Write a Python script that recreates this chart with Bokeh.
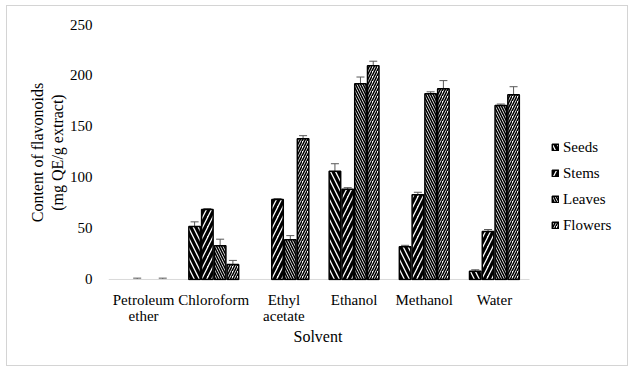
from bokeh.plotting import figure
from bokeh.models import (ColumnDataSource, Range1d, FixedTicker, Whisker, TeeHead,
                          Legend, LegendItem, Title)
from bokeh.embed import file_html
from bokeh.resources import INLINE

# ---- data ----
solvents = ["Petroleum\nether", "Chloroform", "Ethyl\nacetate", "Ethanol", "Methanol", "Water"]
series = ["Seeds", "Stems", "Leaves", "Flowers"]
seeds = [0, 52, 0, 106, 32, 8]
seeds_err = [0, 4.5, 0, 7.5, 1.5, 1.5]
stems = [0, 68.5, 78.5, 88.5, 83, 47]
stems_err = [1.3, 1, 0.8, 1.5, 2.5, 2]
leaves = [0, 33, 39, 192, 182, 170.5]
leaves_err = [0, 6.5, 4, 6.5, 2, 1.5]
flowers = [0, 14.7, 138, 209.5, 187, 181]
flowers_err = [1.3, 4, 3, 4.5, 8, 8]
y_ticks = [0, 50, 100, 150, 200, 250]

values = [seeds, stems, leaves, flowers]
errors = [seeds_err, stems_err, leaves_err, flowers_err]
offsets = [-0.273, -0.091, 0.091, 0.273]
patterns = [("\\", 10, 3.2), ("/", 10, 3.2), ("\\", 5, 1.6), ("/", 5, 1.6)]

FONT = "'Liberation Serif', 'Times New Roman', serif"

W, H = 620, 359
LEFT, RIGHT, TOP, BOTTOM = 101, 0, 18, 85
n = len(solvents)
frame_w = W - LEFT - RIGHT
x_end = n * frame_w / 421.0  # categories occupy the first 421 px; legend sits in the rest

p = figure(width=W, height=H, output_backend="svg", toolbar_location=None,
           x_range=Range1d(0, x_end), y_range=Range1d(-1, 250),
           min_border_left=LEFT, min_border_right=RIGHT, min_border_top=TOP,
           min_border_bottom=BOTTOM)
p.outline_line_color = None
p.grid.visible = False
p.background_fill_color = "white"
p.border_fill_color = "white"

# baseline of the category axis (only under the categories)
p.segment(x0=[0], y0=[0], x1=[n], y1=[0], line_color="#d9d9d9", line_width=1)

items = []
for s, vals, errs, off, (pat, sc, wt) in zip(series, values, errors, offsets, patterns):
    xs = [i + 0.5 + off for i, v in enumerate(vals) if v > 0]
    tops = [v for v in vals if v > 0]
    src = ColumnDataSource(dict(x=xs, top=tops))
    r = p.vbar(x="x", top="top", bottom=0, width=0.164, source=src, fill_color="white",
               line_color="black", line_width=1.5, hatch_pattern=pat, hatch_scale=sc,
               hatch_weight=wt, hatch_color="black")
    items.append(LegendItem(label=s, renderers=[r]))
    ex = [i + 0.5 + off for i, e in enumerate(errs) if e > 0]
    up = [vals[i] + e for i, e in enumerate(errs) if e > 0]
    lo = [max(vals[i] - e, 0) for i, e in enumerate(errs) if e > 0]
    esrc = ColumnDataSource(dict(x=ex, upper=up, lower=lo))
    w = Whisker(base="x", upper="upper", lower="lower", source=esrc, dimension="height",
                line_color="#595959", line_width=1,
                upper_head=TeeHead(size=8, line_color="#595959", line_width=1),
                lower_head=TeeHead(size=8, line_color="#595959", line_width=1))
    p.add_layout(w)

# x axis
xa = p.xaxis[0]
xa.ticker = FixedTicker(ticks=[i + 0.5 for i in range(n)])
xa.major_label_overrides = {i + 0.5: lab for i, lab in enumerate(solvents)}
xa.axis_line_color = None
xa.major_tick_line_color = None
xa.minor_tick_line_color = None
xa.major_label_text_font = FONT
xa.major_label_text_font_size = "15px"
xa.major_label_text_line_height = 1.05
xa.major_label_text_color = "black"
xa.major_label_standoff = 5

# x axis title, centred under the categories
xt = Title(text="Solvent", align="left", offset=185, text_font=FONT,
           text_font_size="16px", text_font_style="normal", text_color="black",
           standoff=-4)
p.add_layout(xt, "below")

# y axis
ya = p.yaxis[0]
ya.ticker = FixedTicker(ticks=y_ticks)
ya.axis_line_color = None
ya.major_tick_line_color = None
ya.minor_tick_line_color = None
ya.major_label_text_font = FONT
ya.major_label_text_font_size = "15px"
ya.major_label_text_color = "black"
ya.major_label_standoff = 10
ya.axis_label = "Content of flavonoids\n(mg QE/g extract)"
ya.axis_label_text_font = FONT
ya.axis_label_text_font_size = "16px"
ya.axis_label_text_font_style = "normal"
ya.axis_label_text_color = "black"
ya.axis_label_standoff = 1

legend = Legend(items=items, location=(443, 45), orientation="vertical",
                glyph_width=8, glyph_height=8, label_standoff=4, label_height=20,
                spacing=6, padding=0, margin=0, border_line_color=None,
                background_fill_alpha=0,
                label_text_font=FONT, label_text_font_size="15px",
                label_text_color="black")
p.add_layout(legend, "center")

p.styles = {"margin": "6px 0 0 7px", "outline": "1px solid #d4d4d4"}

html = file_html(p, INLINE)
html = html.replace("<body>", '<body style="background:#ebebeb">', 1)
open("out.html", "w").write(html)
